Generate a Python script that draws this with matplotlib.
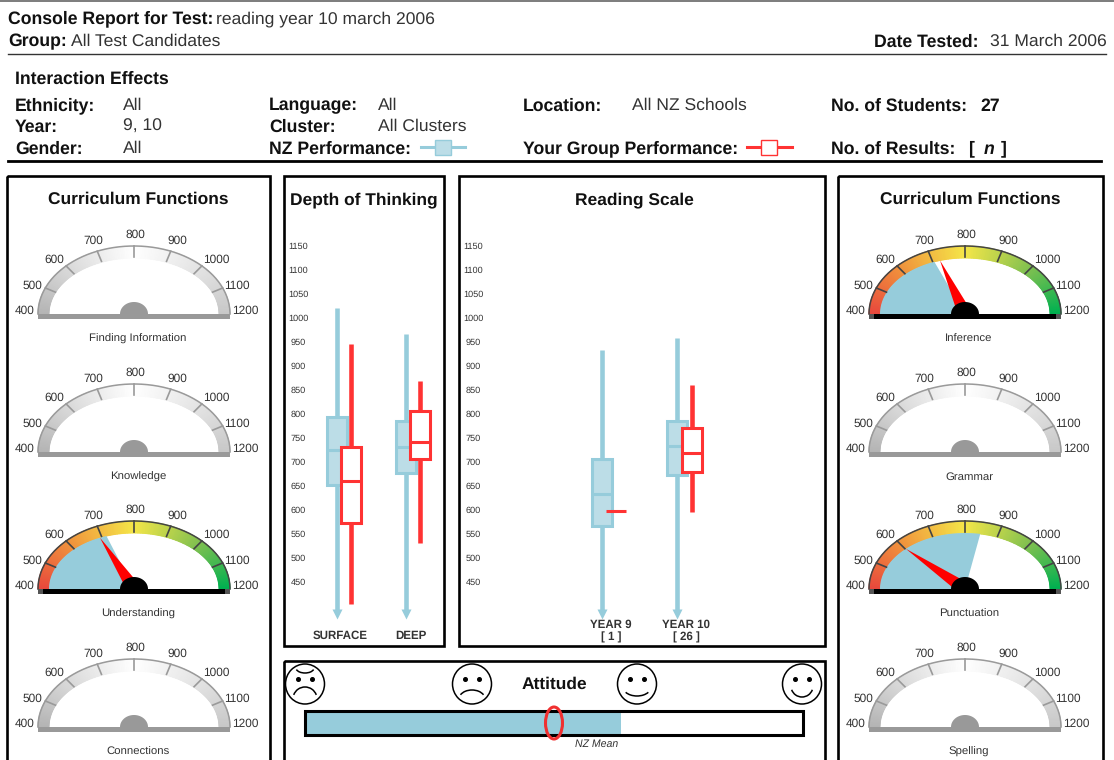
"""Console report page: header block, curriculum gauges, box plots and attitude bar."""

import numpy as np
import matplotlib
matplotlib.use('Agg')
import matplotlib.pyplot as plt
from matplotlib.colors import LinearSegmentedColormap
from matplotlib.patches import Arc, Ellipse, Polygon, Rectangle

plt.rcParams['font.family'] = ['Liberation Sans', 'DejaVu Sans']
plt.rcParams['text.hinting'] = 'none'

W, H = 1114, 760

# ----- data -----
left_names = ['Finding Information', 'Knowledge', 'Understanding', 'Connections']
left_nz = [None, None, 716, None]
left_group = [None, None, 695, None]
right_names = ['Inference', 'Grammar', 'Punctuation', 'Spelling']
right_nz = [706, None, 846, None]
right_group = [724, None, 604, None]
gauge_ticks = [400, 500, 600, 700, 800, 900, 1000, 1100, 1200]

scale_ticks = list(range(1150, 400, -50))

depth_labels = ['SURFACE', 'DEEP']
depth_nz_hi = [1021, 967]
depth_nz_q3 = [794, 785]
depth_nz_med = [725, 731]
depth_nz_q1 = [652, 677]
depth_nz_lo = [392, 392]
depth_grp_hi = [946, 869]
depth_grp_q3 = [731, 806]
depth_grp_med = [660, 742]
depth_grp_q1 = [573, 706]
depth_grp_lo = [404, 531]

year_labels = ['YEAR 9', 'YEAR 10']
year_counts = ['[ 1 ]', '[ 26 ]']
year_nz_hi = [933, 958]
year_nz_q3 = [706, 785]
year_nz_med = [633, 733]
year_nz_q1 = [567, 673]
year_nz_lo = [392, 392]
year9_grp_score = 598
year10_grp_hi = 860
year10_grp_q3 = 771
year10_grp_med = 719
year10_grp_q1 = 679
year10_grp_lo = 596

attitude_nz = 0.635
attitude_grp = 0.50

# ----- styles -----
BLUE = '#96ccdb'
BLUE_LIGHT = '#bcdde7'
RED = '#ff3333'
TXT = '#333333'

heat = LinearSegmentedColormap.from_list('heat', [
    (0.0, '#e8483c'), (0.25, '#f0913c'), (0.5, '#f5e648'),
    (0.75, '#80c050'), (1.0, '#00b050')])
greys = LinearSegmentedColormap.from_list('greys_g', [
    (0.0, '#b4b4b4'), (0.5, '#ffffff'), (1.0, '#c8c8c8')])

fig = plt.figure(figsize=(W / 100, H / 100), dpi=100, facecolor='white')


def px_axes(x0, y0, x1, y1, zorder=2):
    """Axes covering a pixel box of the page (y measured from the top)."""
    ax = fig.add_axes([x0 / W, 1 - y1 / H, (x1 - x0) / W, (y1 - y0) / H], zorder=zorder)
    ax.patch.set_alpha(0)
    ax.axis('off')
    return ax


page = px_axes(0, 0, W, H, zorder=0)
page.set_xlim(0, W)
page.set_ylim(H, 0)


def label(x, y, s, bold=False, size=None, color=None, ha='left', style='normal'):
    if size is None:
        size = 12.7 if bold else 12.6
    page.text(x, y - 1, s, fontsize=size, ha=ha, va='center_baseline', style=style,
              fontweight='bold' if bold else 'normal',
              color=color or ('#111111' if bold else TXT))


# ----- header -----
page.plot([0, W], [0.5, 0.5], color='#666666', lw=1.2)
page.plot([8, 1106], [54, 54], color='#333333', lw=1.0)
page.plot([8, 1101], [161, 161], color='black', lw=2.0)

label(8, 18, 'Console Report for Test:', bold=True)
label(216, 18, 'reading year 10 march 2006')
label(8, 41, 'Group:', bold=True)
label(71, 41, 'All Test Candidates')
label(874, 41, 'Date Tested:', bold=True)
label(990, 41, '31 March 2006')

label(15, 78, 'Interaction Effects', bold=True)
label(15, 105, 'Ethnicity:', bold=True)
label(123, 105, 'All')
label(15, 126, 'Year:', bold=True)
label(123, 126, '9, 10')
label(15, 148, 'Gender:', bold=True)
label(123, 148, 'All')
label(269, 105, 'Language:', bold=True)
label(378, 105, 'All')
label(269, 126, 'Cluster:', bold=True)
label(378, 126, 'All Clusters')
label(269, 148, 'NZ Performance:', bold=True)
label(523, 105, 'Location:', bold=True)
label(632, 105, 'All NZ Schools')
label(523, 148, 'Your Group Performance:', bold=True)
label(831, 105, 'No. of Students:', bold=True)
label(980, 105, '27', bold=True)
label(831, 148, 'No. of Results:', bold=True)
label(968, 148, '[', bold=True)
label(984, 148, 'n', bold=True, style='italic')
label(1001, 148, ']', bold=True)

# legend glyphs
page.plot([421, 465], [147, 147], color=BLUE, lw=2.2)
page.add_patch(Rectangle((435, 140), 16, 15, fc=BLUE_LIGHT, ec=BLUE, lw=1.0, zorder=3))
page.plot([747, 792], [147, 147], color=RED, lw=2.2)
page.add_patch(Rectangle((761, 140), 16, 15, fc='white', ec=RED, lw=1.0, zorder=3))

# ----- panels -----
for x0, y0, x1, y1 in [(7, 176, 270, 775), (284, 176, 444, 646), (459, 176, 825, 646),
                       (838, 176, 1103, 775), (284, 661, 825, 775)]:
    page.add_patch(Rectangle((x0, y0), x1 - x0, y1 - y0, fc='none', ec='black', lw=1.9))

label(138, 199, 'Curriculum Functions', bold=True, size=12.5, ha='center')
label(364, 199, 'Depth of Thinking', bold=True, size=12.5, ha='center')
label(634, 199, 'Reading Scale', bold=True, size=12.5, ha='center')
label(970, 199, 'Curriculum Functions', bold=True, size=12.5, ha='center')

# ----- gauges -----
OUTER_A, OUTER_B = 96, 68
INNER_A, INNER_B = 85, 56
LABEL_DX = [-109, -102, -80, -41, 1, 43, 82, 103, 111]
LABEL_DY = [-5, -30, -56, -75, -81, -75, -56, -30, -5]


def gauge_angle(v):
    return np.pi * (1200 - np.asarray(v, dtype=float)) / 800


def draw_gauge(cx, base, name, nz, group):
    active = nz is not None
    ax = px_axes(cx - 125, base - 95, cx + 125, base + 35)
    ax.set_xlim(-125, 125)
    ax.set_ylim(-35, 95)

    vals = np.linspace(400, 1200, 161)
    th = gauge_angle(vals)
    rr = np.array([0.0, 1.0])
    xx = np.outer(INNER_A + rr * (OUTER_A - INNER_A), np.cos(th))
    yy = np.outer(INNER_B + rr * (OUTER_B - INNER_B), np.sin(th))
    cc = np.tile((vals - 400) / 800, (2, 1))
    ax.pcolormesh(xx, yy, cc, cmap=heat if active else greys, vmin=0, vmax=1,
                  shading='gouraud', zorder=1)

    edge = '#444444' if active else '#9a9a9a'
    ax.plot(OUTER_A * np.cos(th), OUTER_B * np.sin(th), color=edge, lw=1.1, zorder=3)
    for t in gauge_ticks[1:-1]:
        a = gauge_angle(t)
        ax.plot([OUTER_A * np.cos(a), (OUTER_A - 11) * np.cos(a)],
                [OUTER_B * np.sin(a), (OUTER_B - 11) * np.sin(a)],
                color=edge, lw=1.2, zorder=3)

    if active:
        wedge = np.linspace(400, nz, 80)
        wa = gauge_angle(wedge)
        pts = np.column_stack([INNER_A * np.cos(wa), INNER_B * np.sin(wa)])
        ax.add_patch(Polygon(np.vstack([[0, 0], pts]), fc=BLUE, ec='none', zorder=2))

        a = gauge_angle(group)
        tip = np.array([INNER_A * np.cos(a), INNER_B * np.sin(a)])
        d = tip / np.hypot(*tip)
        p = np.array([-d[1], d[0]])
        ax.add_patch(Polygon([tip, d * 8 + p * 6, d * 8 - p * 6], fc='#ff0000', ec='none', zorder=4))

    bar = 'black' if active else '#999999'
    ax.add_patch(Rectangle((-OUTER_A, -5), 2 * OUTER_A, 5, fc='#555555' if active else bar,
                           ec='none', zorder=5))
    if active:
        ax.add_patch(Rectangle((-OUTER_A + 5, -5), 2 * OUTER_A - 10, 5, fc='black', ec='none', zorder=6))
    hub = np.linspace(0, np.pi, 40)
    ax.add_patch(Polygon(np.column_stack([14 * np.cos(hub), 12 * np.sin(hub)]),
                         fc=bar, ec='none', zorder=6))

    for t, dx, dy in zip(gauge_ticks, LABEL_DX, LABEL_DY):
        ax.text(dx, -dy - 1, str(t), fontsize=8.6, ha='center', va='center_baseline',
                color=TXT, zorder=7)
    ax.text(4, -24, name, fontsize=8.2, ha='center', va='center_baseline', color=TXT)


LEFT_BASES = [314, 452, 589, 727]
RIGHT_BASES = [314, 452, 589, 727]
for i in range(4):
    draw_gauge(134, LEFT_BASES[i], left_names[i], left_nz[i], left_group[i])
    draw_gauge(965, RIGHT_BASES[i], right_names[i], right_nz[i], right_group[i])


# ----- box plots -----
PX_PER_UNIT = 0.48


def box_axes(x0, x1):
    ax = px_axes(x0, 176, x1, 646)
    ax.set_xlim(x0, x1)
    ax.set_ylim(1150 - (646 - 246) / PX_PER_UNIT, 1150 + (246 - 176) / PX_PER_UNIT)
    return ax


def draw_boxes(ax, pos, hi, q3, med, q1, lo, edge, face, zorder):
    stats = [dict(whishi=a, q3=b, med=c, q1=d, whislo=e) for a, b, c, d, e in zip(hi, q3, med, q1, lo)]
    art = ax.bxp(stats, positions=pos, widths=20, patch_artist=True, showcaps=False,
                 showfliers=False, manage_ticks=False, zorder=zorder,
                 boxprops=dict(facecolor=face, edgecolor=edge, linewidth=2.2),
                 medianprops=dict(color=edge, linewidth=2.2),
                 whiskerprops=dict(color=edge, linewidth=3.3, solid_capstyle='butt'))
    return art


def scale_labels(ax, x):
    for t in scale_ticks:
        ax.text(x, t, str(t), fontsize=6.6, ha='center', va='center_baseline', color=TXT)


depth_ax = box_axes(284, 444)
depth_x_nz = [337, 406]
depth_x_grp = [351, 420]
scale_labels(depth_ax, 298)
draw_boxes(depth_ax, depth_x_nz, depth_nz_hi, depth_nz_q3, depth_nz_med, depth_nz_q1, depth_nz_lo,
           BLUE, BLUE_LIGHT, 2)
draw_boxes(depth_ax, depth_x_grp, depth_grp_hi, depth_grp_q3, depth_grp_med, depth_grp_q1, depth_grp_lo,
           RED, 'white', 3)
depth_ax.plot(depth_x_nz, np.array(depth_nz_lo) - 9, 'v', color=BLUE, ms=7, mec='none')
for x, s in zip([340, 411], depth_labels):
    depth_ax.text(x, 1150 - (635 - 246) / PX_PER_UNIT, s, fontsize=8.3, fontweight='bold',
                  ha='center', va='center_baseline', color=TXT)

year_ax = box_axes(459, 825)
year_x_nz = [602, 677]
scale_labels(year_ax, 473)
draw_boxes(year_ax, year_x_nz, year_nz_hi, year_nz_q3, year_nz_med, year_nz_q1, year_nz_lo,
           BLUE, BLUE_LIGHT, 2)
draw_boxes(year_ax, [692], [year10_grp_hi], [year10_grp_q3], [year10_grp_med], [year10_grp_q1],
           [year10_grp_lo], RED, 'white', 3)
year_ax.plot([606, 626], [year9_grp_score, year9_grp_score], color=RED, lw=2.2, zorder=4,
             solid_capstyle='butt')
year_ax.plot(year_x_nz, np.array(year_nz_lo) - 9, 'v', color=BLUE, ms=7, mec='none')
for x, s, n in zip([611, 686], year_labels, year_counts):
    year_ax.text(x, 1150 - (624 - 246) / PX_PER_UNIT, s, fontsize=8.3, fontweight='bold',
                 ha='center', va='center_baseline', color=TXT)
    year_ax.text(x, 1150 - (636 - 246) / PX_PER_UNIT, n, fontsize=8.3, fontweight='bold',
                 ha='center', va='center_baseline', color=TXT)

# ----- attitude -----
label(554, 684, 'Attitude', bold=True, size=12.5, ha='center')
label(597, 744, 'NZ Mean', size=7.6, ha='center', style='italic')

att = px_axes(305, 711, 803, 735, zorder=3)
att.set_xlim(0, 1)
att.set_ylim(0, 1)
att.barh(0.5, attitude_nz, height=1, left=0, color=BLUE, zorder=1)
att.add_patch(Rectangle((0, 0), 1, 1, fc='none', ec='black', lw=2.2, zorder=2, clip_on=False))
att.add_patch(Ellipse((attitude_grp, 0.5), 17 / 498, 32 / 24, fc='none', ec='#f03030', lw=2.2,
                      zorder=3, clip_on=False))

FACES = [305, 472, 637, 802]
FACE_Y = 684
for fx in FACES:
    page.add_patch(Ellipse((fx, FACE_Y), 39, 40, fc='white', ec='black', lw=1.1))
    page.plot([fx - 7, fx + 7], [FACE_Y - 5, FACE_Y - 5], 'o', color='black', ms=2.6)
page.add_patch(Arc((FACES[0], FACE_Y - 16), 18, 10, theta1=10, theta2=170, ec='black', lw=1.1))
page.add_patch(Arc((FACES[0], FACE_Y + 15), 24, 24, theta1=200, theta2=340, ec='black', lw=1.1))
page.add_patch(Arc((FACES[1], FACE_Y + 15), 26, 18, theta1=200, theta2=340, ec='black', lw=1.1))
page.add_patch(Arc((FACES[2], FACE_Y + 3), 28, 18, theta1=25, theta2=155, ec='black', lw=1.1))
page.add_patch(Arc((FACES[3], FACE_Y + 2), 22, 22, theta1=20, theta2=160, ec='black', lw=1.1))

fig.savefig('out.png', dpi=100)
